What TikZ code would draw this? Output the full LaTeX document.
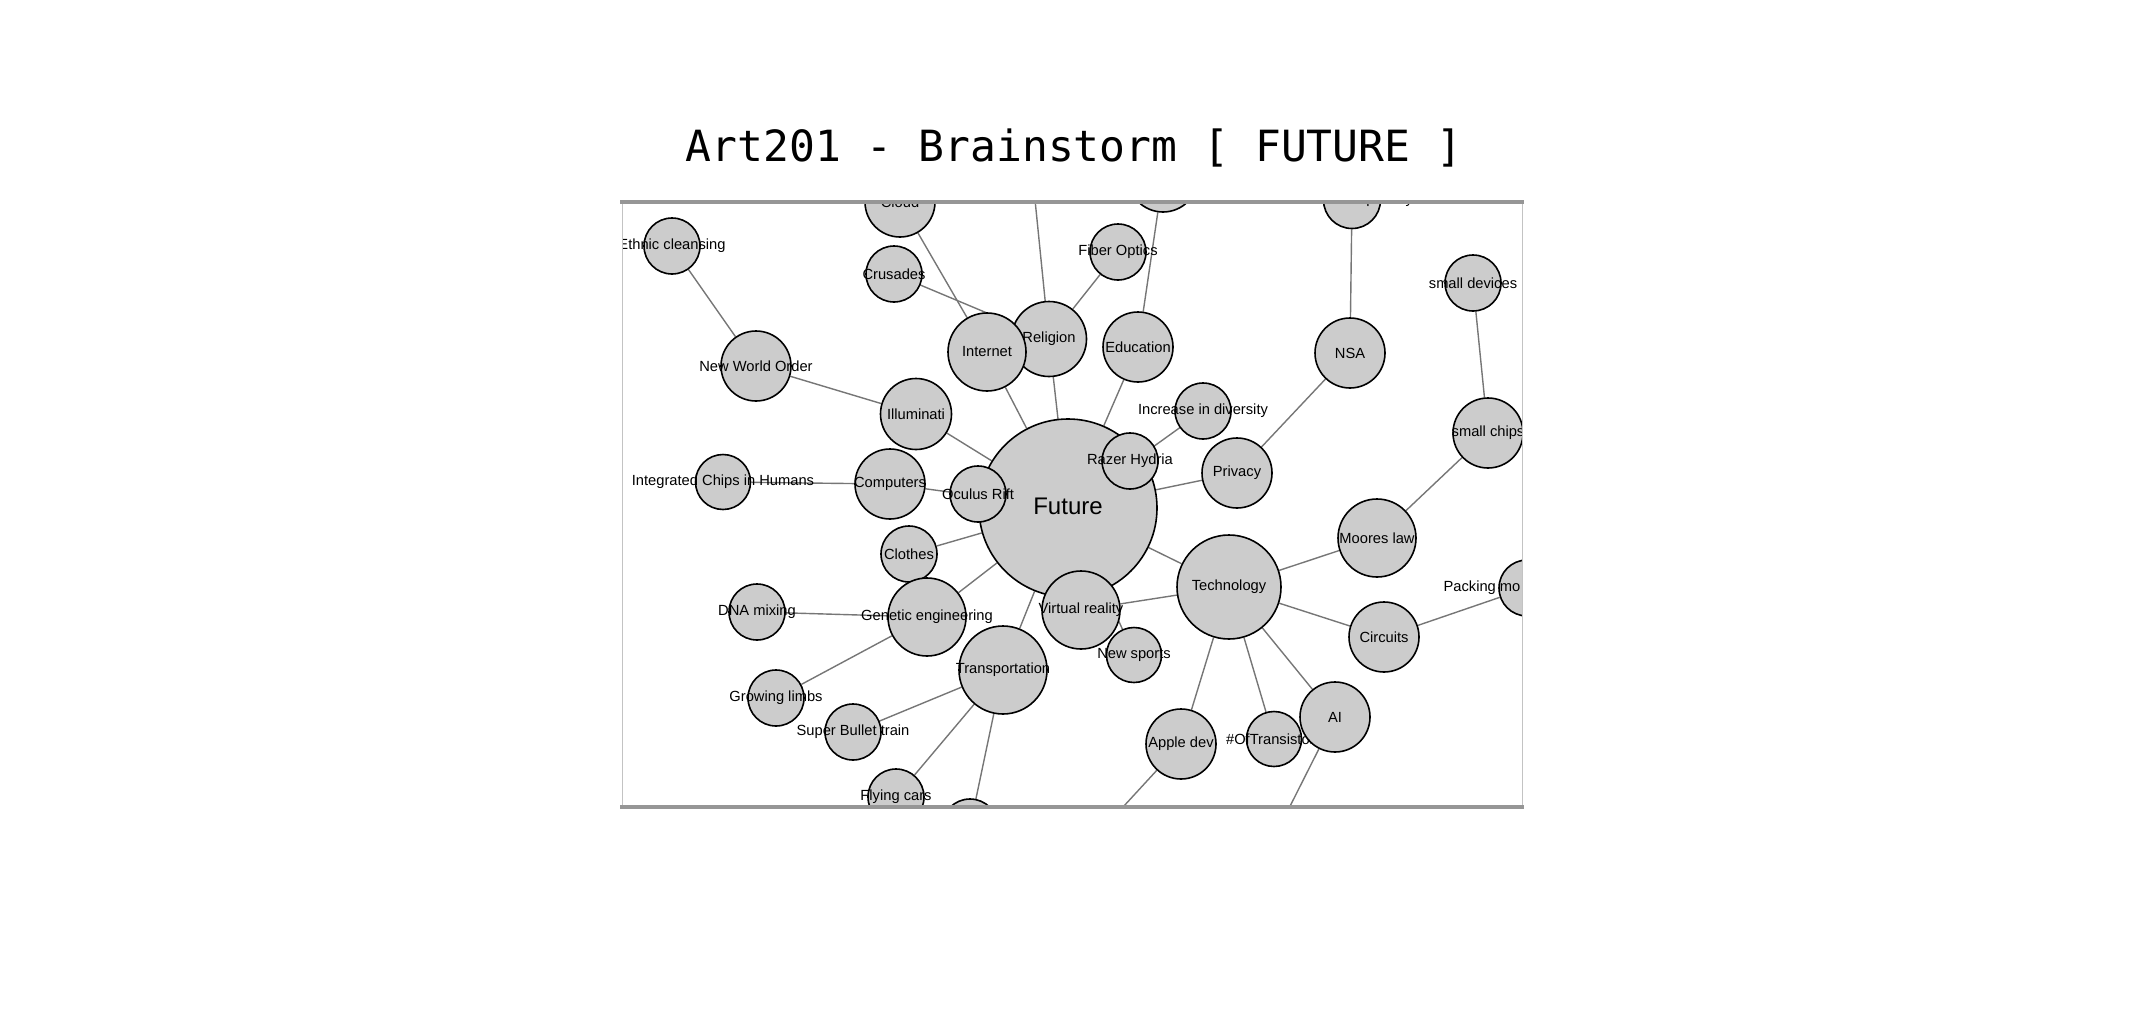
\documentclass[tikz,border=0pt]{standalone}
\usepackage{fontspec}
\setmainfont{Liberation Sans}
\newfontfamily\titlefont{DejaVu Sans Mono}
\usepackage{tikz}
\definecolor{white}{rgb}{1.0, 1.0, 1.0}
\definecolor{black}{rgb}{0.0, 0.0, 0.0}
\definecolor{bubble}{RGB}{204,204,204}
\definecolor{wire}{RGB}{118,118,118}
\definecolor{rimdark}{RGB}{150,150,150}
\definecolor{rimlight}{RGB}{195,195,195}
\pgfdeclarelayer{edgelayer}
\pgfdeclarelayer{nodelayer}
\pgfsetlayers{edgelayer,nodelayer,main}
\tikzstyle{idea}=[circle,fill=bubble,draw=black,line width=1.6pt,inner sep=0pt]
\tikzstyle{link}=[draw=wire,line width=1.4pt]
\newcommand{\lbl}[1]{\makebox[0pt]{#1}}
\newcommand{\frameclip}{\clip (622,203) rectangle (1522,806);}

\begin{document}
\begin{tikzpicture}[x=1pt,y=-1pt,font=\fontsize{14.7}{16}\selectfont]
        \useasboundingbox (0,0) rectangle (2144,1009);

        \node [font=\titlefont\fontsize{43}{43}\selectfont, anchor=base, inner sep=0pt] (title) at (1074, 161) {Art201 - Brainstorm [ FUTURE ]};

        \begin{pgfonlayer}{nodelayer}
        \begin{scope}
            \frameclip
            \node [style = idea, minimum size=178pt] (future) at (1068, 508) {\lbl{\fontsize{24}{26}\selectfont\raisebox{3pt}{Future}}};

            \node [style = idea, minimum size=70pt] (cloud) at (900, 202) {\lbl{Cloud}};
            \node [style = idea, minimum size=56pt] (crusades) at (894, 274) {\lbl{Crusades}};
            \node [style = idea, minimum size=56pt] (ethnic) at (672, 246) {\lbl{Ethnic cleansing}};
            \node [style = idea, minimum size=70pt] (nwo) at (756, 366) {\lbl{New World Order}};
            \node [style = idea, minimum size=71pt] (illuminati) at (916, 414) {\lbl{Illuminati}};
            \node [style = idea, minimum size=55pt] (chips) at (723, 482) {\lbl{Integrated Chips in Humans}};
            \node [style = idea, minimum size=70pt] (computers) at (890, 484) {\lbl{Computers}};
            \node [style = idea, minimum size=56pt] (oculus) at (978, 494) {\lbl{Oculus Rift}};

            \node [style = idea, minimum size=75pt] (religion) at (1049, 339) {\lbl{Religion}};
            \node [style = idea, minimum size=78pt] (internet) at (987, 352) {\lbl{Internet}};
            \node [style = idea, minimum size=56pt] (fiber) at (1118, 252) {\lbl{Fiber Optics}};
            \node [style = idea, minimum size=70pt] (edutop) at (1163, 177) {};
            \node [style = idea, minimum size=70pt] (education) at (1138, 347) {\lbl{Education}};
            \coordinate (relitop) at (1030, 150);

            \node [style = idea, minimum size=56pt] (increase) at (1203, 411) {\lbl{Increase in diversity}};
            \node [style = idea, minimum size=56pt] (razer) at (1130, 461) {\lbl{Razer Hydria}};
            \node [style = idea, minimum size=70pt] (privacy) at (1237, 473) {\lbl{Privacy}};
            \node [style = idea, minimum size=70pt] (nsa) at (1350, 353) {\lbl{NSA}};
            \node [style = idea, minimum size=57pt] (invasion) at (1352, 200) {\lbl{Invasion of privacy}};
            \node [style = idea, minimum size=56pt] (devices) at (1473, 283) {\lbl{small devices}};
            \node [style = idea, minimum size=70pt] (smallchips) at (1488, 433) {\lbl{small chips}};
            \node [style = idea, minimum size=78pt] (moores) at (1377, 538) {\lbl{Moores law}};

            \node [style = idea, minimum size=104pt] (tech) at (1229, 587) {\lbl{Technology}};
            \node [style = idea, minimum size=70pt] (circuits) at (1384, 637) {\lbl{Circuits}};
            \node [style = idea, minimum size=56pt] (packing) at (1527, 588) {\lbl{\hspace*{-90pt}Packing mo}};
            \node [style = idea, minimum size=78pt] (vr) at (1081, 610) {\lbl{Virtual reality}};
            \node [style = idea, minimum size=55pt] (newsports) at (1134, 655) {\lbl{New sports}};
            \node [style = idea, minimum size=70pt] (appledev) at (1181, 744) {\lbl{Apple dev}};
            \node [style = idea, minimum size=55pt] (transistors) at (1274, 739) {\lbl{\#OfTransistors}};
            \node [style = idea, minimum size=70pt] (ai) at (1335, 717) {\lbl{AI}};
            \coordinate (applechild) at (1100, 832);
            \coordinate (aichild) at (1278, 830);

            \node [style = idea, minimum size=56pt] (clothes) at (909, 554) {\lbl{Clothes}};
            \node [style = idea, minimum size=56pt] (dna) at (757, 612) {\lbl{DNA mixing}};
            \node [style = idea, minimum size=78pt] (genetic) at (927, 617) {\lbl{Genetic engineering}};
            \node [style = idea, minimum size=56pt] (limbs) at (776, 698) {\lbl{Growing limbs}};
            \node [style = idea, minimum size=88pt] (transport) at (1003, 670) {\lbl{Transportation}};
            \node [style = idea, minimum size=56pt] (bullet) at (853, 732) {\lbl{Super Bullet train}};
            \node [style = idea, minimum size=56pt] (flying) at (896, 797) {\lbl{Flying cars}};
            \node [style = idea, minimum size=56pt] (transchild) at (970, 827) {};
        \end{scope}
        \end{pgfonlayer}

        \begin{pgfonlayer}{edgelayer}
        \begin{scope}
            \frameclip
            \draw [style = link] (cloud) to (internet);
            \draw [style = link] (crusades) to (religion);
            \draw [style = link] (relitop) to (religion);
            \draw [style = link] (fiber) to (religion);
            \draw [style = link] (edutop) to (education);
            \draw [style = link] (education) to (future);
            \draw [style = link] (internet) to (future);
            \draw [style = link] (religion) to (future);

            \draw [style = link] (ethnic) to (nwo);
            \draw [style = link] (nwo) to (illuminati);
            \draw [style = link] (illuminati) to (future);
            \draw [style = link] (chips) to (computers);
            \draw [style = link] (computers) to (future);

            \draw [style = link] (increase) to (future);
            \draw [style = link] (privacy) to (future);
            \draw [style = link] (invasion) to (nsa);
            \draw [style = link] (nsa) to (privacy);
            \draw [style = link] (devices) to (smallchips);
            \draw [style = link] (smallchips) to (moores);
            \draw [style = link] (moores) to (tech);

            \draw [style = link] (tech) to (future);
            \draw [style = link] (vr) to (tech);
            \draw [style = link] (newsports) to (future);
            \draw [style = link] (circuits) to (tech);
            \draw [style = link] (circuits) to (packing);
            \draw [style = link] (appledev) to (tech);
            \draw [style = link] (transistors) to (tech);
            \draw [style = link] (ai) to (tech);
            \draw [style = link] (appledev) to (applechild);
            \draw [style = link] (ai) to (aichild);

            \draw [style = link] (clothes) to (future);
            \draw [style = link] (genetic) to (future);
            \draw [style = link] (dna) to (genetic);
            \draw [style = link] (limbs) to (genetic);
            \draw [style = link] (transport) to (future);
            \draw [style = link] (bullet) to (transport);
            \draw [style = link] (flying) to (transport);
            \draw [style = link] (transchild) to (transport);
        \end{scope}
        \end{pgfonlayer}

        % frame round the graph
        \draw [rimlight, line width=1pt] (622,203) -- (622,806);
        \draw [rimlight, line width=1pt] (1522,203) -- (1522,806);
        \draw [rimdark, line width=3.5pt] (620,202) -- (1524,202);
        \draw [rimdark, line width=3.5pt] (620,807) -- (1524,807);
    \end{tikzpicture}
\end{document}
